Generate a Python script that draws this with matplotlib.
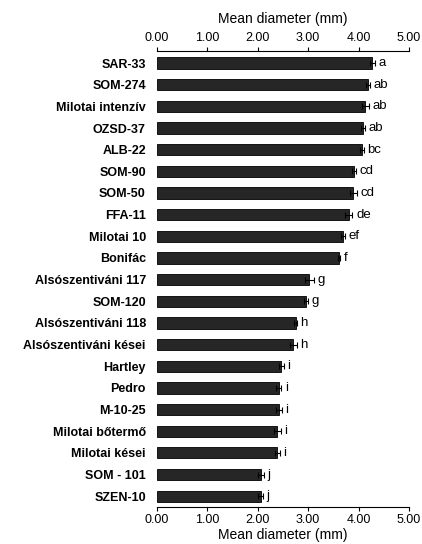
import matplotlib
matplotlib.use("Agg")
import matplotlib.pyplot as plt
from matplotlib.ticker import FormatStrFormatter

plt.rcParams['font.family'] = ['Liberation Sans', 'DejaVu Sans']

cultivars = ["SAR-33", "SOM-274", "Milotai intenzív", "OZSD-37", "ALB-22", "SOM-90",
             "SOM-50", "FFA-11", "Milotai 10", "Bonifác", "Alsószentiváni 117",
             "SOM-120", "Alsószentiváni 118", "Alsószentiváni kései", "Hartley",
             "Pedro", "M-10-25", "Milotai bőtermő", "Milotai kései", "SOM - 101", "SZEN-10"]
means = [4.27, 4.19, 4.13, 4.09, 4.06, 3.91, 3.90, 3.81, 3.69, 3.61, 3.02,
         2.96, 2.75, 2.70, 2.47, 2.42, 2.42, 2.39, 2.39, 2.07, 2.06]
errors = [0.05, 0.04, 0.07, 0.04, 0.04, 0.04, 0.06, 0.07, 0.04, 0.02, 0.09,
          0.04, 0.03, 0.07, 0.05, 0.05, 0.06, 0.07, 0.05, 0.06, 0.05]
letters = ["a", "ab", "ab", "ab", "bc", "cd", "cd", "de", "ef", "f", "g",
           "g", "h", "h", "i", "i", "i", "i", "i", "j", "j"]
xticks = [0, 1, 2, 3, 4, 5]

fig = plt.figure(figsize=(4.22, 5.44), dpi=100)
ax = fig.add_axes([0.372, 0.068, 0.597, 0.838])

y = list(range(len(cultivars)))
ax.barh(y, means, height=0.52, color="#262626", edgecolor="black", linewidth=0.6,
        xerr=errors, error_kw=dict(ecolor="black", elinewidth=0.8, capsize=2, capthick=0.8))
for yi, m, e, l in zip(y, means, errors, letters):
    ax.text(m + e + 0.07, yi, l, va="center", ha="left", fontsize=9.5)

ax.set_xlim(0, 5)
ax.set_ylim(20.5, -0.55)
ax.set_xticks(xticks)
ax.xaxis.set_major_formatter(FormatStrFormatter("%.2f"))
ax.set_yticks(y)
ax.set_yticklabels(cultivars, fontsize=9, fontweight="bold")
ax.tick_params(axis="y", length=0, pad=8)
ax.tick_params(axis="x", top=True, labeltop=True, bottom=True, labelbottom=True,
               length=3, width=0.8, labelsize=9, pad=2)
for s in ["left", "right"]:
    ax.spines[s].set_visible(False)
for s in ["top", "bottom"]:
    ax.spines[s].set_linewidth(0.8)

ax.set_xlabel("Mean diameter (mm)", fontsize=10, labelpad=1.5)
sec = ax.secondary_xaxis("top")
sec.set_xticks([])
sec.spines["top"].set_visible(False)
sec.set_xlabel("Mean diameter (mm)", fontsize=10, labelpad=20)

fig.savefig("out.png", dpi=100)
